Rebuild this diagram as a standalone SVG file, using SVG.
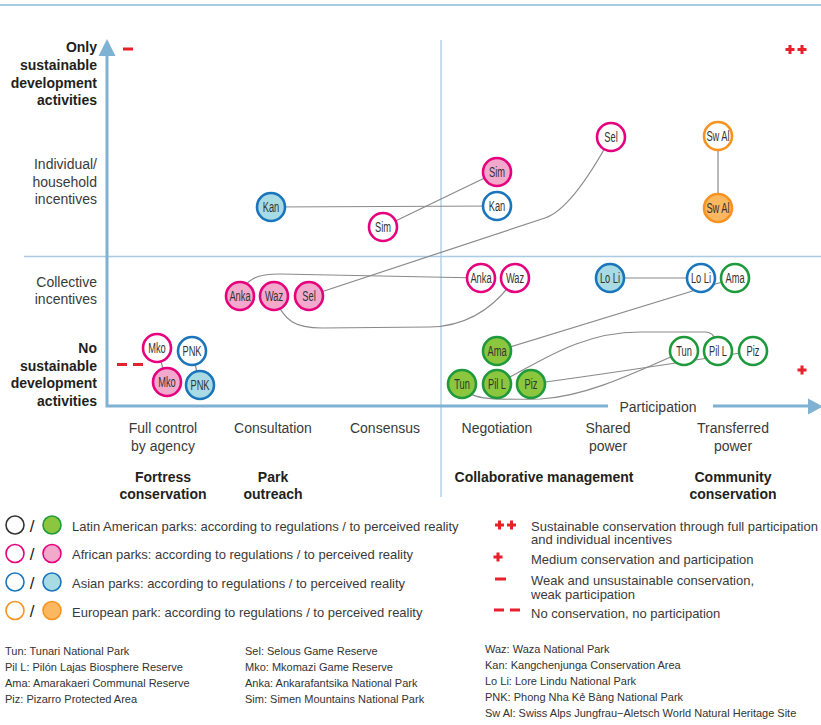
<svg xmlns="http://www.w3.org/2000/svg" width="821" height="725" viewBox="0 0 821 725">
<style>
text{font-family:"Liberation Sans",Arial,sans-serif;fill:#3a3a3a}
.ax{font-size:14px}
.b{font-weight:bold;fill:#231f20}
.lg{font-size:13px}
.fn{font-size:11px;fill:#333}
.sl{font-size:17px;fill:#222;text-anchor:middle}
.axis{stroke:#7fb1d3;stroke-width:3;fill:none}
.div{stroke:#a9cbe2;stroke-width:1.3;fill:none}
.con path,.con line{stroke:#8a8a8a;stroke-width:1.2;fill:none}
.n circle{stroke-width:2.6}
.n text{font-size:15px;text-anchor:middle;fill:#333}
.po{stroke:#e6007e;fill:#fff}.pf{stroke:#e6007e;fill:#f2a9cb}
.bo{stroke:#1b75bc;fill:#fff}.bf{stroke:#1b75bc;fill:#a8dbe4}
.go{stroke:#1e9a3c;fill:#fff}.gf{stroke:#1e9a3c;fill:#8cc63e}
.oo{stroke:#f7931e;fill:#fff}.of{stroke:#f7931e;fill:#fbb860}
.ko{stroke:#333;fill:#fff}
.red{fill:#e8202a}
.lc circle{stroke-width:1.6}
</style>
<defs>
<path id="plus" d="M-1.5,-4.5h3v3h3v3h-3v3h-3v-3h-3v-3h3z" class="red"/>
</defs>
<line x1="0" y1="5" x2="821" y2="5" stroke="#8bbbd8" stroke-width="1.5"/>
<!-- dividers -->
<line class="div" x1="24" y1="256.5" x2="821" y2="256.5"/>
<line class="div" x1="441" y1="40" x2="441" y2="497"/>
<!-- axes -->
<g id="axes">
<path class="axis" d="M107,56 V406 H608"/>
<path class="axis" d="M713,406 H810"/>
<path d="M107,39 L115.5,56 L98.5,56 Z" fill="#7fb1d3"/>
<path d="M823,406.5 L808,398.5 L808,414.5 Z" fill="#7fb1d3"/>
<text class="ax" x="658" y="412" text-anchor="middle">Participation</text>
</g>
<!-- y labels -->
<g id="ylabels" class="ax" text-anchor="end">
<text class="ax b" x="97" text-anchor="end"><tspan x="97" y="52">Only</tspan><tspan x="97" y="70">sustainable</tspan><tspan x="97" y="87.5">development</tspan><tspan x="97" y="105">activities</tspan></text>
<text class="ax" x="97" text-anchor="end"><tspan x="97" y="169">Individual/</tspan><tspan x="97" y="186.5">household</tspan><tspan x="97" y="204">incentives</tspan></text>
<text class="ax" x="97" text-anchor="end"><tspan x="97" y="287">Collective</tspan><tspan x="97" y="304">incentives</tspan></text>
<text class="ax b" x="97" text-anchor="end"><tspan x="97" y="353">No</tspan><tspan x="97" y="370.5">sustainable</tspan><tspan x="97" y="388">development</tspan><tspan x="97" y="405.5">activities</tspan></text>
</g>
<!-- x labels -->
<g id="xlabels" class="ax" text-anchor="middle">
<text class="ax" text-anchor="middle"><tspan x="163" y="433">Full control</tspan><tspan x="163" y="450.5">by agency</tspan></text>
<text class="ax" x="273" y="433" text-anchor="middle">Consultation</text>
<text class="ax" x="385" y="433" text-anchor="middle">Consensus</text>
<text class="ax" x="497" y="433" text-anchor="middle">Negotiation</text>
<text class="ax" text-anchor="middle"><tspan x="608" y="433">Shared</tspan><tspan x="608" y="450.5">power</tspan></text>
<text class="ax" text-anchor="middle"><tspan x="733" y="433">Transferred</tspan><tspan x="733" y="450.5">power</tspan></text>
<text class="ax b" text-anchor="middle"><tspan x="163" y="481.5">Fortress</tspan><tspan x="163" y="499">conservation</tspan></text>
<text class="ax b" text-anchor="middle"><tspan x="273" y="481.5">Park</tspan><tspan x="273" y="499">outreach</tspan></text>
<text class="ax b" x="544" y="481.5" text-anchor="middle">Collaborative management</text>
<text class="ax b" text-anchor="middle"><tspan x="733" y="481.5">Community</tspan><tspan x="733" y="499">conservation</tspan></text>
</g>
<!-- red markers -->
<g id="markers">
<rect class="red" x="123" y="47.5" width="10" height="3"/>
<use href="#plus" x="790" y="49.5"/><use href="#plus" x="802" y="49.5"/>
<use href="#plus" x="802" y="370"/>
<rect class="red" x="117" y="363" width="10" height="3"/><rect class="red" x="133" y="363" width="10" height="3"/>
</g>
<!-- connectors -->
<g id="connectors" class="con">
<line x1="271" y1="207" x2="497" y2="206"/>
<line x1="383" y1="227" x2="497" y2="172"/>
<path d="M309,296 L545,218 Q572,209 611,137"/>
<path d="M240,296 C246,278 258,274 280,274 L481,278"/>
<path d="M274,296 C284,322 296,328 322,328 L430,327 C470,326 496,306 515,278"/>
<line x1="610" y1="278" x2="701" y2="278"/>
<line x1="497" y1="351" x2="735" y2="278"/>
<path d="M497,384 C540,362 580,332 640,332 L705,332 C712,332 716,336 718,351"/>
<path d="M462,384 C466,400 490,400 540,399 C580,397 620,380 684,351"/>
<path d="M531,384 C575,378 620,372 753,351"/>
<line x1="718" y1="136" x2="718" y2="208"/>
<line x1="157" y1="348" x2="167" y2="382"/>
<line x1="192" y1="351" x2="200" y2="385"/>
</g>
<!-- nodes -->
<g id="kan-f" class="n" transform="translate(271,207)"><circle class="bf" r="14"/><text y="5.3" transform="scale(0.62 1)">Kan</text></g>
<g id="sim-o" class="n" transform="translate(383,227)"><circle class="po" r="14"/><text y="5.3" transform="scale(0.62 1)">Sim</text></g>
<g id="sim-f" class="n" transform="translate(497,172)"><circle class="pf" r="14"/><text y="5.3" transform="scale(0.62 1)">Sim</text></g>
<g id="kan-o" class="n" transform="translate(497,206)"><circle class="bo" r="14"/><text y="5.3" transform="scale(0.62 1)">Kan</text></g>
<g id="sel-o" class="n" transform="translate(611,137)"><circle class="po" r="14"/><text y="5.3" transform="scale(0.62 1)">Sel</text></g>
<g id="swal-o" class="n" transform="translate(718,136)"><circle class="oo" r="14"/><text y="5.3" transform="scale(0.62 1)">Sw Al</text></g>
<g id="swal-f" class="n" transform="translate(718,208)"><circle class="of" r="14"/><text y="5.3" transform="scale(0.62 1)">Sw Al</text></g>
<g id="anka-f" class="n" transform="translate(240,296)"><circle class="pf" r="14"/><text y="5.3" transform="scale(0.62 1)">Anka</text></g>
<g id="waz-f" class="n" transform="translate(274,296)"><circle class="pf" r="14"/><text y="5.3" transform="scale(0.62 1)">Waz</text></g>
<g id="sel-f" class="n" transform="translate(309,296)"><circle class="pf" r="14"/><text y="5.3" transform="scale(0.62 1)">Sel</text></g>
<g id="anka-o" class="n" transform="translate(481,278)"><circle class="po" r="14"/><text y="5.3" transform="scale(0.62 1)">Anka</text></g>
<g id="waz-o" class="n" transform="translate(515,278)"><circle class="po" r="14"/><text y="5.3" transform="scale(0.62 1)">Waz</text></g>
<g id="loli-f" class="n" transform="translate(610,278)"><circle class="bf" r="14"/><text y="5.3" transform="scale(0.62 1)">Lo Li</text></g>
<g id="loli-o" class="n" transform="translate(701,278)"><circle class="bo" r="14"/><text y="5.3" transform="scale(0.62 1)">Lo Li</text></g>
<g id="ama-o" class="n" transform="translate(735,278)"><circle class="go" r="14"/><text y="5.3" transform="scale(0.62 1)">Ama</text></g>
<g id="ama-f" class="n" transform="translate(497,351)"><circle class="gf" r="14"/><text y="5.3" transform="scale(0.62 1)">Ama</text></g>
<g id="tun-f" class="n" transform="translate(462,384)"><circle class="gf" r="14"/><text y="5.3" transform="scale(0.62 1)">Tun</text></g>
<g id="pill-f" class="n" transform="translate(497,384)"><circle class="gf" r="14"/><text y="5.3" transform="scale(0.62 1)">Pil L</text></g>
<g id="piz-f" class="n" transform="translate(531,384)"><circle class="gf" r="14"/><text y="5.3" transform="scale(0.62 1)">Piz</text></g>
<g id="tun-o" class="n" transform="translate(684,351)"><circle class="go" r="14"/><text y="5.3" transform="scale(0.62 1)">Tun</text></g>
<g id="pill-o" class="n" transform="translate(718,351)"><circle class="go" r="14"/><text y="5.3" transform="scale(0.62 1)">Pil L</text></g>
<g id="piz-o" class="n" transform="translate(753,351)"><circle class="go" r="14"/><text y="5.3" transform="scale(0.62 1)">Piz</text></g>
<g id="mko-o" class="n" transform="translate(157,348)"><circle class="po" r="14"/><text y="5.3" transform="scale(0.62 1)">Mko</text></g>
<g id="pnk-o" class="n" transform="translate(192,351)"><circle class="bo" r="14"/><text y="5.3" transform="scale(0.62 1)">PNK</text></g>
<g id="mko-f" class="n" transform="translate(167,382)"><circle class="pf" r="14"/><text y="5.3" transform="scale(0.62 1)">Mko</text></g>
<g id="pnk-f" class="n" transform="translate(200,385)"><circle class="bf" r="14"/><text y="5.3" transform="scale(0.62 1)">PNK</text></g>
<!-- legend left -->
<g id="legend-left" class="lc">
<circle class="ko" cx="15" cy="525" r="9"/><text class="sl" x="32" y="531.5">/</text><circle class="gf" cx="52" cy="525" r="9"/>
<text class="lg" x="72" y="530.5">Latin American parks: according to regulations / to perceived reality</text>
<circle class="po" cx="15" cy="553.5" r="9"/><text class="sl" x="32" y="560">/</text><circle class="pf" cx="52" cy="553.5" r="9"/>
<text class="lg" x="72" y="559">African parks: according to regulations / to perceived reality</text>
<circle class="bo" cx="15" cy="582" r="9"/><text class="sl" x="32" y="588.5">/</text><circle class="bf" cx="52" cy="582" r="9"/>
<text class="lg" x="72" y="587.5">Asian parks: according to regulations / to perceived reality</text>
<circle class="oo" cx="15" cy="610.5" r="9"/><text class="sl" x="32" y="617">/</text><circle class="of" cx="52" cy="610.5" r="9"/>
<text class="lg" x="72" y="616.5">European park: according to regulations / to perceived reality</text>
</g>
<!-- legend right -->
<g id="legend-right">
<use href="#plus" x="499.5" y="525"/><use href="#plus" x="511.5" y="525"/>
<text class="lg"><tspan x="531" y="530.5">Sustainable conservation through full participation</tspan><tspan x="531" y="544">and individual incentives</tspan></text>
<use href="#plus" x="498" y="557"/>
<text class="lg" x="531" y="564">Medium conservation and participation</text>
<rect class="red" x="495" y="577.5" width="11" height="3"/>
<text class="lg"><tspan x="531" y="585">Weak and unsustainable conservation,</tspan><tspan x="531" y="599">weak participation</tspan></text>
<rect class="red" x="494" y="608.5" width="10" height="3"/><rect class="red" x="510" y="608.5" width="10" height="3"/>
<text class="lg" x="531" y="618">No conservation, no participation</text>
</g>
<!-- footnotes -->
<g id="footnotes" class="fn">
<text class="fn"><tspan x="5" y="655">Tun: Tunari National Park</tspan><tspan x="5" y="671">Pil L: Pilón Lajas Biosphere Reserve</tspan><tspan x="5" y="687">Ama: Amarakaeri Communal Reserve</tspan><tspan x="5" y="703">Piz: Pizarro Protected Area</tspan></text>
<text class="fn"><tspan x="245" y="655">Sel: Selous Game Reserve</tspan><tspan x="245" y="671">Mko: Mkomazi Game Reserve</tspan><tspan x="245" y="687">Anka: Ankarafantsika National Park</tspan><tspan x="245" y="703">Sim: Simen Mountains National Park</tspan></text>
<text class="fn"><tspan x="485" y="653">Waz: Waza National Park</tspan><tspan x="485" y="669">Kan: Kangchenjunga Conservation Area</tspan><tspan x="485" y="685">Lo Li: Lore Lindu National Park</tspan><tspan x="485" y="701">PNK: Phong Nha Kẻ Bàng National Park</tspan><tspan x="485" y="717">Sw Al: Swiss Alps Jungfrau−Aletsch World Natural Heritage Site</tspan></text>
</g>
</svg>
